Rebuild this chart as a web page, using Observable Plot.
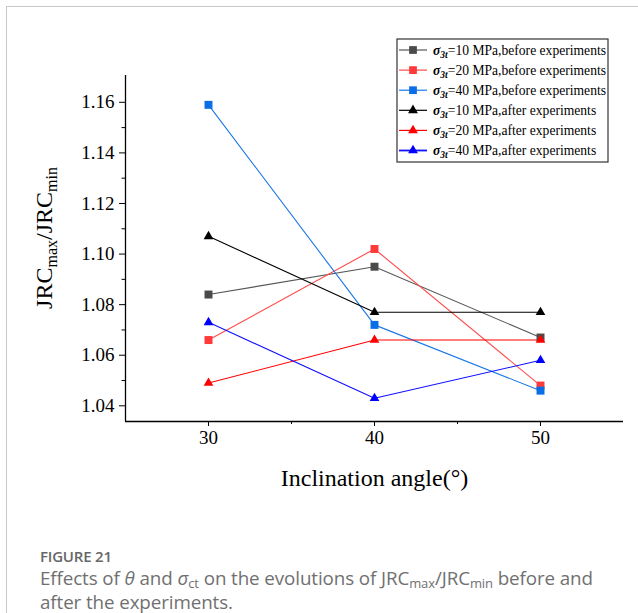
<!DOCTYPE html>
<html>
<head>
<meta charset="utf-8">
<script src="https://cdn.jsdelivr.net/npm/d3@7"></script>
<script src="https://cdn.jsdelivr.net/npm/@observablehq/plot@0.6"></script>
<style>
  html, body { margin: 0; padding: 0; background: #fff; }
  #page { position: relative; width: 638px; height: 613px; overflow: hidden; }
  #card { position: absolute; left: 6px; top: 6px; width: 700px; height: 700px;
          border-left: 1px solid #c8c8c8; border-top: 1px solid #c8c8c8; box-sizing: border-box; }
  #chart { position: absolute; left: 0; top: 0; }
  #caption { position: absolute; left: 40px; top: 545px; width: 575px;
             font-family: "Open Sans", sans-serif; color: #707070; }
  #caption .fig { font-size: 15px; font-weight: 600; color: #666; line-height: 22px; letter-spacing: -0.2px; }
  #caption .txt { font-size: 18.8px; line-height: 23.5px; font-weight: 400; letter-spacing: -0.1px; }
  #caption sub { font-size: 13px; vertical-align: -3px; line-height: 0; }
</style>
</head>
<body>
<div id="page">
  <div id="card"></div>
  <div id="chart"></div>
  <div id="caption">
    <div class="fig">FIGURE 21</div>
    <div class="txt">Effects of <i>θ</i> and <i>σ</i><sub>ct</sub> on the evolutions of JRC<sub>max</sub>/JRC<sub>min</sub> before and after the experiments.</div>
  </div>
</div>
<script>
// Inclination angles (degrees) on the x axis
const angles = [30, 40, 50];

// JRCmax/JRCmin at each angle, per confining stress, before and after the experiments
const before10 = [1.084, 1.095, 1.067];
const before20 = [1.066, 1.102, 1.048];
const before40 = [1.159, 1.072, 1.046];
const after10 = [1.107, 1.077, 1.077];
const after20 = [1.049, 1.066, 1.066];
const after40 = [1.073, 1.043, 1.058];

// Legend text (after the σ3t symbol)
const seriesLabels = [
  "=10 MPa,before experiments",
  "=20 MPa,before experiments",
  "=40 MPa,before experiments",
  "=10 MPa,after experiments",
  "=20 MPa,after experiments",
  "=40 MPa,after experiments"
];

// Axis ticks
const xTicks = [30, 40, 50];
const xMinorTicks = [35, 45];
const yTicks = [1.04, 1.06, 1.08, 1.10, 1.12, 1.14, 1.16];
const yMinorTicks = [1.05, 1.07, 1.09, 1.11, 1.13, 1.15];

const seriesValues = [before10, before20, before40, after10, after20, after40];
const seriesStyle = [
  {line: "#575757", fill: "#4a4a4a", symbol: "square", r: 4.5},
  {line: "#ff4a4a", fill: "#ff3a3a", symbol: "square", r: 4.5},
  {line: "#1a78e6", fill: "#0a6fe6", symbol: "square", r: 4.5},
  {line: "#000000", fill: "#000000", symbol: "triangle", r: 3.6},
  {line: "#ff0000", fill: "#ff0000", symbol: "triangle", r: 3.6},
  {line: "#1010ff", fill: "#0000ff", symbol: "triangle", r: 3.6}
];

const series = seriesValues.map((vals, k) => ({
  label: seriesLabels[k],
  style: seriesStyle[k],
  rows: angles.map((a, i) => ({angle: a, value: vals[i]}))
}));

const xDomain = [25, 55];
const yDomain = [1.0338, 1.1706];

const chart = Plot.plot({
  width: 638,
  height: 500,
  marginLeft: 125,
  marginRight: 15,
  marginTop: 75,
  marginBottom: 79,
  x: {domain: xDomain},
  y: {domain: yDomain},
  style: {fontFamily: "'Liberation Serif', 'Times New Roman', serif", fontSize: "19px", color: "#000", background: "transparent"},
  marks: [
    Plot.ruleX([xDomain[0]], {stroke: "#000", strokeWidth: 1.3}),
    Plot.ruleY([yDomain[0]], {stroke: "#000", strokeWidth: 1.3}),
    Plot.axisY(yTicks, {tickSize: 6, tickPadding: 5, tickFormat: d => d.toFixed(2), label: null, fontSize: 19, stroke: "#000"}),
    Plot.axisY(yMinorTicks, {tickSize: 3.5, tickFormat: () => "", label: null, stroke: "#000"}),
    Plot.axisX(xTicks, {tickSize: 5, tickPadding: 4, label: null, fontSize: 19, stroke: "#000"}),
    Plot.axisX(xMinorTicks, {tickSize: 3, tickFormat: () => "", label: null, stroke: "#000"}),
    ...series.map(s => Plot.line(s.rows, {x: "angle", y: "value", stroke: s.style.line, strokeWidth: 1.1})),
    ...series.map(s => Plot.dot(s.rows, {x: "angle", y: "value", symbol: s.style.symbol, r: s.style.r, fill: s.style.fill, stroke: "none"})),
    Plot.text(["Inclination angle(°)"], {frameAnchor: "bottom", dy: 64, fontSize: 24, fill: "#000"})
  ]
});

document.getElementById("chart").appendChild(chart);

const svg = d3.select(chart);

// Y axis title with subscripts
const yTitle = svg.append("text")
  .attr("transform", "translate(52,238) rotate(-90)")
  .attr("text-anchor", "middle")
  .attr("font-size", 24)
  .attr("fill", "#000");
yTitle.append("tspan").text("JRC");
yTitle.append("tspan").attr("font-size", 16).attr("dy", 5).text("max");
yTitle.append("tspan").attr("dy", -5).text("/JRC");
yTitle.append("tspan").attr("font-size", 16).attr("dy", 5).text("min");

// Legend box
const lg = svg.append("g").attr("transform", "translate(397,39)");
lg.append("rect")
  .attr("width", 211).attr("height", 123)
  .attr("fill", "#fff").attr("stroke", "#333").attr("stroke-width", 1.2);

series.forEach((s, k) => {
  const y = 11 + k * 20.1;
  const row = lg.append("g").attr("transform", `translate(0,${y})`);
  row.append("line")
    .attr("x1", 2).attr("x2", 30)
    .attr("stroke", s.style.line).attr("stroke-width", k === 5 ? 1.8 : 1.2);
  const sym = s.style.symbol === "square" ? d3.symbolSquare : d3.symbolTriangle;
  const size = s.style.symbol === "square" ? 60 : 42;
  row.append("path")
    .attr("transform", "translate(16,0)")
    .attr("d", d3.symbol(sym, size)())
    .attr("fill", s.style.fill);
  const t = row.append("text")
    .attr("x", 36).attr("y", 4.5)
    .attr("text-anchor", "start")
    .attr("font-size", 13.6)
    .attr("fill", "#000");
  t.append("tspan").attr("font-weight", "bold").attr("font-style", "italic").text("σ");
  t.append("tspan").attr("font-size", 9.5).attr("font-weight", "bold").attr("font-style", "italic").attr("dy", 3).text("3t");
  t.append("tspan").attr("dy", -3).text(s.label);
});
</script>
</body>
</html>
